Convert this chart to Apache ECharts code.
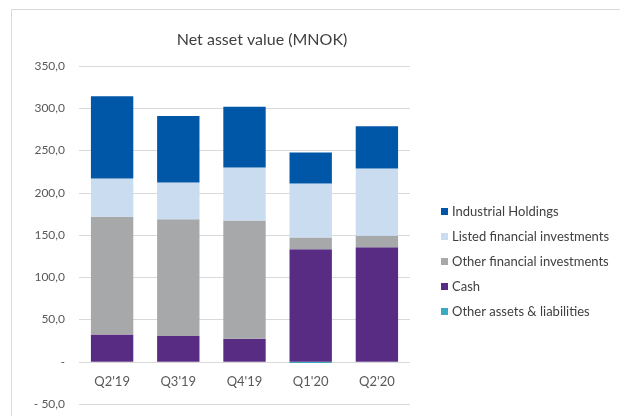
<!DOCTYPE html>
<html>
<head>
<meta charset="utf-8">
<script src="https://cdn.jsdelivr.net/npm/echarts@6/dist/echarts.min.js"></script>
<style>
html, body { margin: 0; padding: 0; background: #fff; }
#chart { width: 620px; height: 416px; }
</style>
</head>
<body>
<div id="chart"></div>
<script>
var quarters = ["Q2'19", "Q3'19", "Q4'19", "Q1'20", "Q2'20"];
var industrial = [97.4, 78.9, 72.1, 36.6, 50.1];
var listed = [45.3, 43.3, 62.7, 63.9, 79.6];
var otherFin = [139.2, 138.3, 139.9, 13.8, 13.4];
var cash = [32.3, 30.4, 27.2, 133.2, 135.6];
var otherAssets = [0, 0, 0, -1.5, 0];

function fmt(v) {
	if (v === 0) return '-';
	var s = Math.abs(v).toFixed(1).replace('.', ',');
	return v < 0 ? '- ' + s : s;
}

function bar(name, data, color) {
	return {
		name: name,
		type: 'bar',
		stack: 'nav',
		barCategoryGap: '36%',
		itemStyle: { color: color },
		data: data
	};
}

var myChart = echarts.init(document.getElementById('chart'));
var option = {
	animation: false,
	textStyle: { fontFamily: 'Lato' },
	graphic: [{
		type: 'rect',
		shape: { x: 11.5, y: 9.5, width: 700, height: 500 },
		style: { fill: 'none', stroke: '#d9d9d9', lineWidth: 1 }
	}],
	title: {
		text: 'Net asset value (MNOK)',
		left: 257,
		top: 27,
		textAlign: 'center',
		textStyle: { fontSize: 16, fontWeight: 'normal', color: '#404040' }
	},
	legend: {
		orient: 'vertical',
		left: 436,
		top: 200,
		itemWidth: 7,
		itemHeight: 7,
		itemGap: 12,
		icon: 'rect',
		textStyle: { fontSize: 13, color: '#404040', padding: [0, 0, 0, -1] },
		data: ['Industrial Holdings', 'Listed financial investments', 'Other financial investments', 'Cash', 'Other assets & liabilities']
	},
	grid: { left: 79, right: 210, top: 66, bottom: 12, outerBoundsMode: 'none', containLabel: false },
	xAxis: {
		type: 'category',
		data: quarters,
		offset: -42,
		axisTick: { show: false },
		axisLine: { show: false },
		axisLabel: { margin: 13, fontSize: 13, color: '#595959' }
	},
	yAxis: {
		type: 'value',
		min: -50,
		max: 350,
		interval: 50,
		axisLabel: { formatter: fmt, fontSize: 12, color: '#595959', margin: 14 },
		splitLine: { lineStyle: { color: '#d9d9d9' } }
	},
	series: [
		bar('Other assets & liabilities', otherAssets, '#3ba9c2'),
		bar('Cash', cash, '#582c83'),
		bar('Other financial investments', otherFin, '#a7a8aa'),
		bar('Listed financial investments', listed, '#c9dcf0'),
		bar('Industrial Holdings', industrial, '#0057a8')
	]
};
myChart.setOption(option);
</script>
</body>
</html>
